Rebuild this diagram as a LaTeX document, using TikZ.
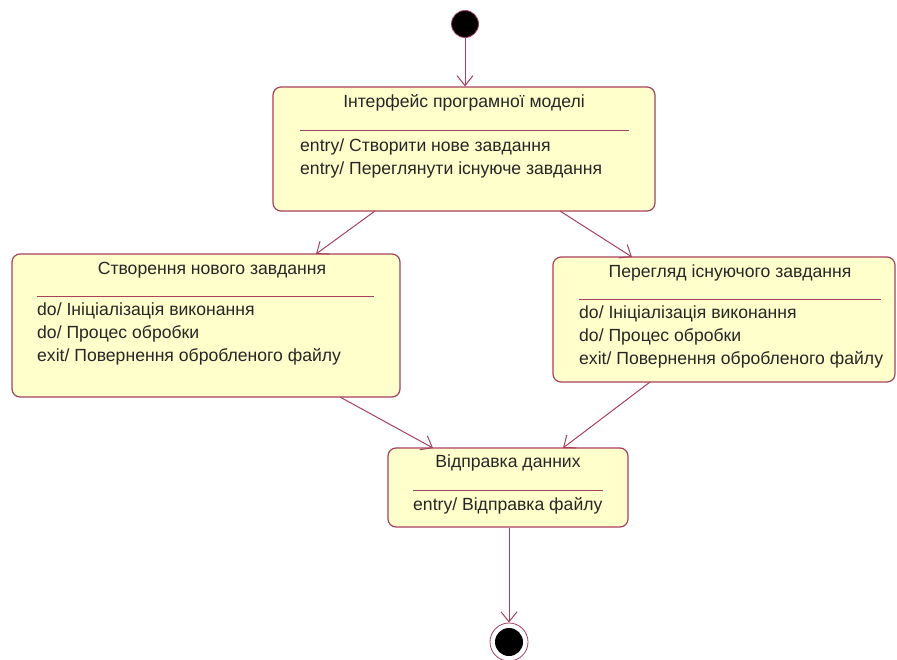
\documentclass[tikz,border=0pt]{standalone}
\usepackage{fontspec}
\setmainfont{Liberation Sans}
\usetikzlibrary{arrows.meta}
\definecolor{umlred}{HTML}{A8405E}
\definecolor{umlfill}{HTML}{FFFFCC}
\tikzset{
  statebox/.style={draw=umlred, fill=umlfill, rounded corners=8pt, line width=1.2pt},
  sep/.style={draw=umlred, line width=1pt},
  lbl/.style={anchor=west, inner sep=0pt, font=\fontsize{17.6}{19}\selectfont, text=black!85},
  ttl/.style={anchor=center, inner sep=0pt, font=\fontsize{17.6}{19}\selectfont, text=black!85},
  trans/.style={draw=umlred, line width=1pt, -{Straight Barb[length=10pt,width=16pt,line width=1pt]}},
}
\begin{document}
\begin{tikzpicture}[x=1pt,y=-1pt]
\useasboundingbox (0,0) rectangle (897,659);
% initial
\node (init) [circle, fill=black, draw=umlred, line width=0.8pt, minimum size=27pt, inner sep=0pt] at (465,24) {};
% box 1
\node (b1) [statebox, minimum width=382pt, minimum height=124pt, inner sep=0pt] at (464,149) {};
\node[ttl] (t1) at (464,103) {Інтерфейс програмної моделі};
\draw[sep] (300,130) -- (629,130);
\node[lbl] (l11) at (300,147) {entry/ Створити нове завдання};
\node[lbl] (l12) at (300,170) {entry/ Переглянути існуюче завдання};
% box 2
\node (b2) [statebox, minimum width=388pt, minimum height=143pt, inner sep=0pt] at (206,325.5) {};
\node[ttl] (t2) at (212,270) {Створення нового завдання};
\draw[sep] (37,296) -- (374,296);
\node[lbl] (l21) at (37,311) {do/ Ініціалізація виконання};
\node[lbl] (l22) at (37,334) {do/ Процес обробки};
\node[lbl] (l23) at (37,357) {exit/ Повернення обробленого файлу};
% box 3
\node (b3) [statebox, minimum width=342pt, minimum height=125pt, inner sep=0pt] at (724,319.5) {};
\node[ttl] (t3) at (730,273) {Перегляд існуючого завдання};
\draw[sep] (579,299) -- (881,299);
\node[lbl] (l31) at (579,314) {do/ Ініціалізація виконання};
\node[lbl] (l32) at (579,337) {do/ Процес обробки};
\node[lbl] (l33) at (579,360) {exit/ Повернення обробленого файлу};
% box 4
\node (b4) [statebox, minimum width=240pt, minimum height=79pt, inner sep=0pt] at (508,487.5) {};
\node[ttl] (t4) at (508,463) {Відправка данних};
\draw[sep] (413,490) -- (603,490);
\node[lbl] (l41) at (413,506) {entry/ Відправка файлу};
% final
\node (fin) [circle, draw=umlred, line width=0.8pt, fill=white, minimum size=38pt, inner sep=0pt] at (509,642) {};
\node (finc) [circle, fill=black, minimum size=28pt, inner sep=0pt] at (509,642) {};
% anchors
\coordinate (a1s) at (375,211);
\coordinate (a2e) at (316,254);
\coordinate (a3s) at (560,211);
\coordinate (a3e) at (632,257);
\coordinate (a4s) at (340,397);
\coordinate (a4e) at (433,448);
\coordinate (a5s) at (650,382);
\coordinate (a5e) at (563,448);
\draw[trans] (init) -- (b1.north -| init);
\draw[trans] (a1s) -- (a2e);
\draw[trans] (a3s) -- (a3e);
\draw[trans] (a4s) -- (a4e);
\draw[trans] (a5s) -- (a5e);
\draw[trans] (b4.south -| fin) -- (fin.north);
\end{tikzpicture}
\end{document}
